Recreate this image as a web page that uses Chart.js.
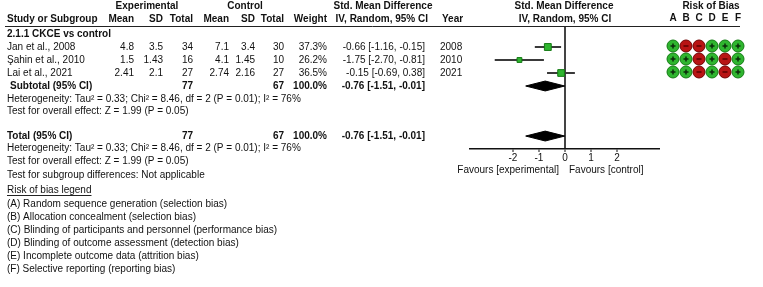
<!DOCTYPE html>
<html>
<head>
<meta charset="utf-8">
<script src="https://cdn.jsdelivr.net/npm/chart.js@4"></script>
<style>
  html, body { margin: 0; padding: 0; background: #fff; }
  #wrap { position: relative; width: 763px; height: 287px; }
  canvas { display: block; position: absolute; }
  #forest { left: 0; top: 0; }
  #bias { left: 660px; top: 0; }
</style>
</head>
<body>
<div id="wrap">
  <canvas id="forest" width="763" height="287"></canvas>
  <canvas id="bias" width="103" height="90"></canvas>
</div>
<script>
// study data
var studies = ["Jan et al., 2008", "Şahin et al., 2010", "Lai et al., 2021"];
var expMean = [4.8, 1.5, 2.41];
var expSD = [3.5, 1.43, 2.1];
var expTotal = [34, 16, 27];
var ctlMean = [7.1, 4.1, 2.74];
var ctlSD = [3.4, 1.45, 2.16];
var ctlTotal = [30, 10, 27];
var weights = [37.3, 26.2, 36.5];
var smd = [-0.66, -1.75, -0.15];
var ciLow = [-1.16, -2.70, -0.69];
var ciHigh = [-0.15, -0.81, 0.38];
var years = [2008, 2010, 2021];

// pooled (random effects)
var pooledSmd = -0.76;
var pooledLow = -1.51;
var pooledHigh = -0.01;
var pooledExpTotal = 77;
var pooledCtlTotal = 67;
var pooledWeight = 100.0;

var hetText = "Heterogeneity: Tau² = 0.33; Chi² = 8.46, df = 2 (P = 0.01); I² = 76%";
var zText = "Test for overall effect: Z = 1.99 (P = 0.05)";

// risk of bias, columns A..F
var biasLetters = ["A", "B", "C", "D", "E", "F"];
var biasJan = ["+", "-", "-", "+", "+", "+"];
var biasSahin = ["+", "+", "-", "+", "-", "+"];
var biasLai = ["+", "+", "-", "+", "-", "+"];
var biasLegend = [
    "(A) Random sequence generation (selection bias)",
    "(B) Allocation concealment (selection bias)",
    "(C) Blinding of participants and personnel (performance bias)",
    "(D) Blinding of outcome assessment (detection bias)",
    "(E) Incomplete outcome data (attrition bias)",
    "(F) Selective reporting (reporting bias)"
];

// axis
var axisTicks = [-2, -1, 0, 1, 2];
var axisMin = -3.65;
var axisMax = 3.65;

// layout (row units, 1 row = 13px) and column x positions
var ROW = { h1: -3.15, h2: -2.15, group: -1, sub: 3, het1: 4, z1: 4.95, total: 6.85, het2: 7.8, z2: 8.75, subgroup: 9.85, legend: 11, legendA: 12.1 };
var COL = { name: 7, expMean: 134, expSD: 163, expTot: 193, ctlMean: 229, ctlSD: 255, ctlTot: 284, weight: 327, ci: 425, year: 440 };

var FONT = '"Liberation Sans", Arial, sans-serif';
var GREEN = "#2fb52f", GREEN_DARK = "#137a13";
var RED = "#b81414", RED_DARK = "#700000";

function fmtCI(e, l, h) {
    return e.toFixed(2) + " [" + l.toFixed(2) + ", " + h.toFixed(2) + "]";
}

var datasets = [];

// study squares
datasets.push({
    type: "scatter",
    order: 0,
    data: studies.map((s, i) => ({ x: smd[i], y: i })),
    pointStyle: "rect",
    pointRadius: weights.map(w => w * 0.13),
    backgroundColor: GREEN,
    borderColor: GREEN_DARK,
    borderWidth: 1
});

// confidence interval whiskers
studies.forEach((s, i) => {
    datasets.push({
        type: "line",
        order: 1,
        data: [{ x: ciLow[i], y: i }, { x: ciHigh[i], y: i }],
        borderColor: "#3a3a3a",
        borderWidth: 2,
        pointRadius: 0
    });
});

// pooled diamonds (subtotal + total)
[ROW.sub, ROW.total].forEach(r => {
    datasets.push({
        type: "line",
        order: 1,
        data: [
            { x: pooledLow, y: r },
            { x: pooledSmd, y: r - 0.38 },
            { x: pooledHigh, y: r },
            { x: pooledSmd, y: r + 0.38 },
            { x: pooledLow, y: r }
        ],
        borderColor: "#000",
        backgroundColor: "#000",
        borderWidth: 1,
        fill: "shape",
        pointRadius: 0,
        tension: 0
    });
});

var tablePlugin = {
    id: "table",
    afterDraw(chart) {
        var ctx = chart.ctx;
        var ys = chart.scales.y, xs = chart.scales.x;
        var area = chart.chartArea;
        ctx.save();
        function T(s, px, row, align, bold) {
            ctx.font = (bold ? "bold " : "") + "10px " + FONT;
            ctx.textAlign = align || "left";
            ctx.textBaseline = "middle";
            ctx.fillStyle = "#111";
            ctx.fillText(s, px, ys.getPixelForValue(row));
        }

        // headers
        T("Experimental", 147, ROW.h1, "center", true);
        T("Control", 245, ROW.h1, "center", true);
        T("Std. Mean Difference", 383, ROW.h1, "center", true);
        T("Std. Mean Difference", xs.getPixelForValue(0) - 1, ROW.h1, "center", true);
        T("Risk of Bias", 711, ROW.h1, "center", true);
        T("Study or Subgroup", COL.name, ROW.h2, "left", true);
        T("Mean", COL.expMean, ROW.h2, "right", true);
        T("SD", COL.expSD, ROW.h2, "right", true);
        T("Total", COL.expTot, ROW.h2, "right", true);
        T("Mean", COL.ctlMean, ROW.h2, "right", true);
        T("SD", COL.ctlSD, ROW.h2, "right", true);
        T("Total", COL.ctlTot, ROW.h2, "right", true);
        T("Weight", COL.weight, ROW.h2, "right", true);
        T("IV, Random, 95% CI", COL.ci + 3, ROW.h2, "right", true);
        T("Year", COL.year + 2, ROW.h2, "left", true);
        T("IV, Random, 95% CI", xs.getPixelForValue(0), ROW.h2, "center", true);

        // header rule
        ctx.strokeStyle = "#222";
        ctx.lineWidth = 1;
        ctx.beginPath();
        ctx.moveTo(5, Math.round(area.top) + 0.5);
        ctx.lineTo(740, Math.round(area.top) + 0.5);
        ctx.stroke();

        T("2.1.1 CKCE vs control", COL.name, ROW.group, "left", true);

        studies.forEach((s, i) => {
            T(s, COL.name, i);
            T(String(expMean[i]), COL.expMean, i, "right");
            T(String(expSD[i]), COL.expSD, i, "right");
            T(String(expTotal[i]), COL.expTot, i, "right");
            T(String(ctlMean[i]), COL.ctlMean, i, "right");
            T(String(ctlSD[i]), COL.ctlSD, i, "right");
            T(String(ctlTotal[i]), COL.ctlTot, i, "right");
            T(weights[i].toFixed(1) + "%", COL.weight, i, "right");
            T(fmtCI(smd[i], ciLow[i], ciHigh[i]), COL.ci, i, "right");
            T(String(years[i]), COL.year, i, "left");
        });

        [[ROW.sub, "Subtotal (95% CI)", COL.name + 3], [ROW.total, "Total (95% CI)", COL.name]].forEach(p => {
            T(p[1], p[2], p[0], "left", true);
            T(String(pooledExpTotal), COL.expTot, p[0], "right", true);
            T(String(pooledCtlTotal), COL.ctlTot, p[0], "right", true);
            T(pooledWeight.toFixed(1) + "%", COL.weight, p[0], "right", true);
            T(fmtCI(pooledSmd, pooledLow, pooledHigh), COL.ci, p[0], "right", true);
        });
        T(hetText, COL.name, ROW.het1);
        T(zText, COL.name, ROW.z1);
        T(hetText, COL.name, ROW.het2);
        T(zText, COL.name, ROW.z2);
        T("Test for subgroup differences: Not applicable", COL.name, ROW.subgroup);

        T("Risk of bias legend", COL.name, ROW.legend);
        ctx.font = "10px " + FONT;
        var w = ctx.measureText("Risk of bias legend").width;
        var uy = Math.round(ys.getPixelForValue(ROW.legend)) + 5.5;
        ctx.beginPath();
        ctx.moveTo(COL.name, uy);
        ctx.lineTo(COL.name + w, uy);
        ctx.stroke();
        biasLegend.forEach((s, i) => T(s, COL.name, ROW.legendA + i));

        // favours labels under the axis
        var zero = xs.getPixelForValue(0);
        ctx.font = "10px " + FONT;
        ctx.fillStyle = "#111";
        ctx.textBaseline = "middle";
        ctx.textAlign = "right";
        ctx.fillText("Favours [experimental]", zero - 6, area.bottom + 21);
        ctx.textAlign = "left";
        ctx.fillText("Favours [control]", zero + 4, area.bottom + 21);
        ctx.restore();
    }
};

new Chart(document.getElementById("forest"), {
    type: "scatter",
    data: { datasets: datasets },
    options: {
        responsive: false,
        devicePixelRatio: 1,
        animation: false,
        events: [],
        layout: { autoPadding: false, padding: { left: 470, right: 103, top: 26, bottom: 118 } },
        plugins: {
            legend: { display: false },
            tooltip: { enabled: false }
        },
        scales: {
            x: {
                type: "linear",
                min: axisMin,
                max: axisMax,
                afterFit: (scale) => { scale.height = 20; },
                afterBuildTicks: (scale) => { scale.ticks = axisTicks.map(v => ({ value: v })); },
                border: { display: true, color: "#111", width: 1.5 },
                grid: {
                    drawOnChartArea: true,
                    color: (c) => (c.tick && c.tick.value === 0) ? "#444" : "rgba(0,0,0,0)",
                    lineWidth: (c) => (c.tick && c.tick.value === 0) ? 2 : 0,
                    tickColor: "#111",
                    tickWidth: 1,
                    tickLength: 3
                },
                ticks: {
                    color: "#111",
                    padding: 0,
                    maxRotation: 0,
                    font: { family: FONT, size: 10 }
                }
            },
            y: {
                type: "linear",
                display: false,
                reverse: true,
                min: -1.6154,
                max: 7.846
            }
        }
    },
    plugins: [tablePlugin]
});

// risk of bias grid (separate small chart laid over the right edge)
var biasRows = [biasJan, biasSahin, biasLai];
var plusPts = [], minusPts = [], greenPts = [], redPts = [];
biasRows.forEach((row, r) => {
    row.forEach((v, c) => {
        if (v === "+") { greenPts.push({ x: c, y: r }); plusPts.push({ x: c, y: r }); }
        else { redPts.push({ x: c, y: r }); minusPts.push({ x: c, y: r }); }
    });
});

var biasHeader = {
    id: "biasHeader",
    afterDraw(chart) {
        var ctx = chart.ctx, xs = chart.scales.x, ys = chart.scales.y;
        ctx.save();
        ctx.font = "bold 10px " + FONT;
        ctx.fillStyle = "#111";
        ctx.textAlign = "center";
        ctx.textBaseline = "middle";
        biasLetters.forEach((l, i) => ctx.fillText(l, xs.getPixelForValue(i), ys.getPixelForValue(ROW.h2)));
        ctx.restore();
    }
};

new Chart(document.getElementById("bias"), {
    type: "scatter",
    data: {
        datasets: [
            { order: 0, data: plusPts, pointStyle: "cross", pointRadius: 2.5, borderColor: "#0b2a0b", borderWidth: 1.5 },
            { order: 0, data: minusPts, pointStyle: "line", pointRadius: 2.5, borderColor: "#5a0000", borderWidth: 1.5 },
            { order: 1, data: greenPts, pointStyle: "circle", pointRadius: 6, backgroundColor: GREEN, borderColor: GREEN_DARK, borderWidth: 1 },
            { order: 1, data: redPts, pointStyle: "circle", pointRadius: 6, backgroundColor: RED, borderColor: RED_DARK, borderWidth: 1 }
        ]
    },
    options: {
        responsive: false,
        devicePixelRatio: 1,
        animation: false,
        events: [],
        layout: { autoPadding: false, padding: 0 },
        plugins: {
            legend: { display: false },
            tooltip: { enabled: false }
        },
        scales: {
            x: { type: "linear", display: false, min: -1, max: 6.923 },
            y: { type: "linear", display: false, reverse: true, min: -3.538, max: 3.385 }
        }
    },
    plugins: [biasHeader]
});
</script>
</body>
</html>
